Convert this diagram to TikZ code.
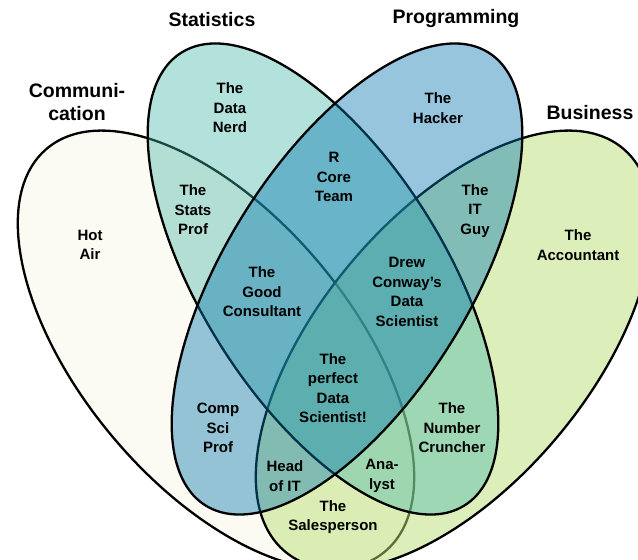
\documentclass[tikz,border=0pt]{standalone}
\usepackage{fontspec}
\setmainfont{Liberation Sans}
\definecolor{commfill}{RGB}{252,251,243}
\definecolor{busfill}{RGB}{187,225,121}
\definecolor{statfill}{RGB}{67,180,167}
\definecolor{progfill}{RGB}{5,119,176}
\begin{document}
\begin{tikzpicture}[x=1pt,y=-1pt,
  lbl/.style={font=\bfseries\fontsize{15}{19.5}\selectfont, align=center, inner sep=0pt, text=black},
  ttl/.style={font=\bfseries\fontsize{19.5}{22.5}\selectfont, align=center, inner sep=0pt, text=black},
  venn/.style={line width=2.3pt, draw=black}]
\useasboundingbox (0,0) rectangle (638,560);
\fill[white] (0,0) rectangle (638,560);
\begin{scope}
\clip (0,0) rectangle (638,560);
\draw[venn, fill=commfill, rotate around={-50:(216,350)}] (216,350) ellipse [x radius=263pt, y radius=135pt];
\draw[venn, fill=busfill, fill opacity=0.5, rotate around={50:(454,350)}] (454,350) ellipse [x radius=263pt, y radius=135pt];
\draw[venn, fill=statfill, fill opacity=0.4, rotate around={-58:(323,279)}] (323,279) ellipse [x radius=267pt, y radius=122pt];
\draw[venn, fill=progfill, fill opacity=0.42, rotate around={58:(347,279)}] (347,279) ellipse [x radius=267pt, y radius=122pt];
\end{scope}
% titles
\node[ttl] (tstat) at (212,20) {Statistics};
\node[ttl] (tprog) at (456,18) {Programming};
\node[ttl] (tcomm) at (77,102) {Communi-\\cation};
\node[ttl] (tbus) at (590,113) {Business};
% regions
\node[lbl] (hot) at (90,245) {Hot\\Air};
\node[lbl] (nerd) at (230,108) {The\\Data\\Nerd};
\node[lbl] (sprof) at (193,210) {The\\Stats\\Prof};
\node[lbl] (hack) at (438,108) {The\\Hacker};
\node[lbl] (rcore) at (334,177) {R\\Core\\Team};
\node[lbl] (itguy) at (475,211) {The\\IT\\Guy};
\node[lbl] (acct) at (578,245) {The\\Accountant};
\node[lbl] (cons) at (262,292) {The\\Good\\Consultant};
\node[lbl] (drew) at (407,292) {Drew\\Conway{\char"0027}s\\Data\\Scientist};
\node[lbl] (perf) at (333,388) {The\\perfect\\Data\\Scientist!};
\node[lbl] (csp) at (218,428) {Comp\\Sci\\Prof};
\node[lbl] (numc) at (452,428) {The\\Number\\Cruncher};
\node[lbl] (head) at (285,476) {Head\\of IT};
\node[lbl] (ana) at (382,476) {Ana-\\lyst};
\node[lbl] (sales) at (333,517) {The\\Salesperson};
\end{tikzpicture}
\end{document}
